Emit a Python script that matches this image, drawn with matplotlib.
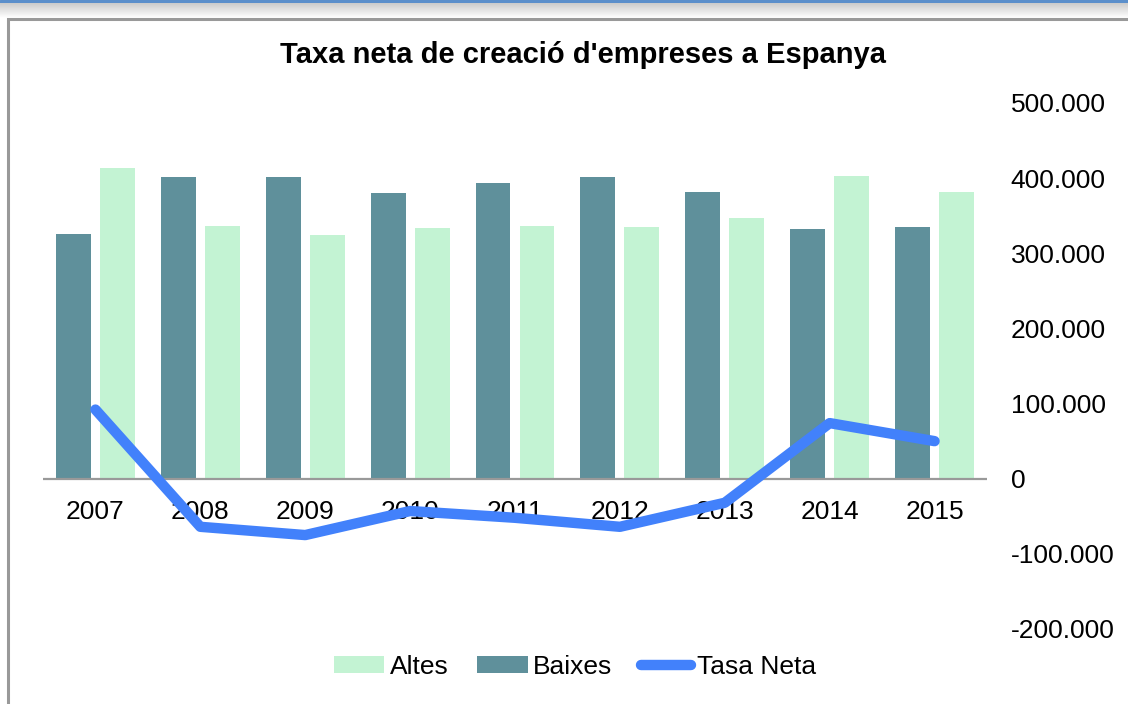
import matplotlib
matplotlib.use("Agg")
import matplotlib.pyplot as plt
from matplotlib.patches import Rectangle
from matplotlib.ticker import FuncFormatter
import matplotlib.transforms as mtransforms
import numpy as np

plt.rcParams["font.family"] = ["Liberation Sans", "DejaVu Sans"]

years = ["2007", "2008", "2009", "2010", "2011", "2012", "2013", "2014", "2015"]
altes = [413600, 336800, 324000, 334000, 336000, 335000, 347000, 403000, 382000]
baixes = [325400, 401000, 402000, 380000, 394000, 402000, 382000, 332000, 335000]
tasa_neta = [92000, -64000, -75000, -43000, -52000, -64000, -32000, 74000, 50000]
y_ticks = [-200000, -100000, 0, 100000, 200000, 300000, 400000, 500000]

DARK = "#5f909b"
LIGHT = "#c3f3d3"
LINE = "#4281fb"

W, H = 1128, 704
fig = plt.figure(figsize=(W / 100, H / 100), dpi=100)

# top blue strip with soft shadow
strip = fig.add_axes([0, 1 - 3 / H, 1, 3 / H])
strip.set_axis_off()
strip.add_patch(Rectangle((0, 0), 1, 1, color="#5b8fcb"))
shadow = fig.add_axes([0, 1 - 18 / H, 1, 15 / H])
shadow.set_axis_off()
grad = np.linspace(0.78, 1.0, 64)[:, None]
shadow.imshow(np.repeat(grad, 4, axis=1), cmap="gray", vmin=0, vmax=1,
              aspect="auto", extent=(0, 1, 0, 1), origin="upper")

# outer chart frame
fig.patches.append(Rectangle((8 / W, -0.05), 1.2, (H - 19) / H + 0.05,
                             transform=fig.transFigure, fill=False,
                             edgecolor="#999999", linewidth=2.2))

ax = fig.add_axes([43 / W, 75 / H, 944 / W, 526 / H])
x = np.arange(len(years))
bw = 0.333
h_altes = ax.bar(x + 0.21, altes, bw, color=LIGHT, label="Altes", zorder=2)
h_baixes = ax.bar(x - 0.21, baixes, bw, color=DARK, label="Baixes", zorder=2)
h_tasa, = ax.plot(x, tasa_neta, color=LINE, linewidth=7.5, solid_capstyle="round",
                  label="Tasa Neta", zorder=5)

ax.axhline(0, color="#999999", linewidth=1.6, zorder=3)
ax.set_xlim(-0.5, len(years) - 0.5)
ax.set_ylim(-200000, 500000)
for side in ax.spines.values():
    side.set_visible(False)

ax.set_xticks([])
ax.yaxis.tick_right()
ax.set_yticks(y_ticks)
ax.yaxis.set_major_formatter(FuncFormatter(lambda v, _: f"{int(v):,}".replace(",", ".")))
ax.tick_params(axis="y", length=0, pad=17, labelsize=19)
for lbl in ax.get_yticklabels():
    lbl.set_horizontalalignment("left")

offset = mtransforms.offset_copy(ax.transData, fig=fig, x=0, y=-33, units="dots")
for i, yr in enumerate(years):
    ax.text(i, 0, yr, transform=offset, ha="center", va="center",
            fontsize=19, zorder=4)

fig.text(583 / W, 1 - 55 / H, "Taxa neta de creació d'empreses a Espanya",
         ha="center", va="center", fontsize=21, fontweight="bold")

fig.legend(handles=[h_altes, h_baixes, h_tasa], loc="center",
           bbox_to_anchor=(575 / W, 1 - 667 / H), ncol=3,
           frameon=False, fontsize=19, handlelength=1.9, handleheight=0.6,
           handletextpad=0.2, columnspacing=1.1)

fig.savefig("out.png", dpi=100)
